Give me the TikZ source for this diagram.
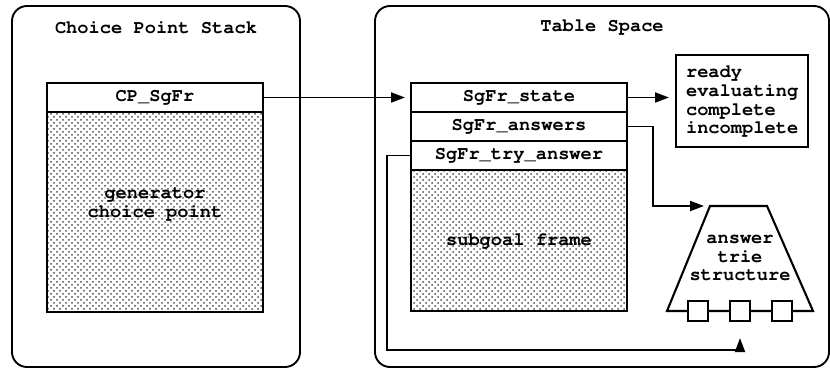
\documentclass[tikz,border=0pt]{standalone}
\usepackage[T1]{fontenc}
\usepackage{courier}
\usetikzlibrary{arrows.meta,patterns}
\tikzset{
	panel/.style={draw,line width=0.95pt,rounded corners=7.5pt},
	field/.style={draw,line width=1.05pt,minimum width=108pt,minimum height=14.5pt,
		inner sep=0pt,outer sep=0pt,fill=white},
	frame/.style={draw,line width=1.05pt,minimum width=108pt,inner sep=0pt,outer sep=0pt,
		pattern=crosshatch dots,pattern color=black!70},
	conn/.style={-{Triangle[length=7pt,width=5pt]},line width=0.95pt,shorten >=3pt},
	label/.style={align=center}
}
\begin{document}
\begin{tikzpicture}[x=0.5pt,y=-0.5pt,every node/.append style={font=\ttfamily\bfseries\fontsize{9.35}{9.4}\selectfont}]
		\useasboundingbox (0,0) rectangle (830,369);
		\draw[panel] (12,6) rectangle (300,367);
		\draw[panel] (375,6) rectangle (829,367);
		\node (stacktitle) at (156,27) {Choice Point Stack};
		\node (tabletitle) at (602,27) {Table Space};
		% choice point stack
		\node[field] (cpfr) at (155,97.5) {CP\_SgFr};
		\node[frame,minimum height=100pt,anchor=north] (gencp) at (cpfr.south) {};
		\node[label] (gentext) at (155,204) {generator\\choice point};
		% subgoal frame
		\node[field] (state) at (519,97.5) {SgFr\_state};
		\node[field,anchor=north] (answers) at (state.south) {SgFr\_answers};
		\node[field,anchor=north] (tryans) at (answers.south) {SgFr\_try\_answer};
		\node[frame,minimum height=70.5pt,anchor=north] (sgframe) at (tryans.south) {subgoal frame};
		\node[draw,line width=1.05pt,align=left,inner xsep=5pt,minimum height=46pt,
		anchor=west] (status) at (675,101) {ready\\evaluating\\complete\\incomplete};
		% answer trie
		\draw[line width=1.05pt] (710,206) -- (767,206) -- (813,311) -- (667,311) -- cycle;
		\node[label] (trie) at (740,258) {answer\\trie\\structure};
		\foreach \i/\x in {1/698,2/740,3/782}
			\node[draw,line width=1.05pt,fill=white,minimum size=10pt,inner sep=0pt] (sq\i) at (\x,311) {};
		\coordinate (triein) at (710,206);
		\coordinate (loop) at (387,350);
		\draw[conn] (cpfr.east) -- (state.west);
		\draw[conn] (state.east) -- (state.east -| status.west);
		\draw[conn] (answers.east) -- ++(26,0) |- (triein);
		\draw[conn] (tryans.west) -| (loop) -| ([yshift=-5pt]sq2.south);
\end{tikzpicture}
\end{document}
